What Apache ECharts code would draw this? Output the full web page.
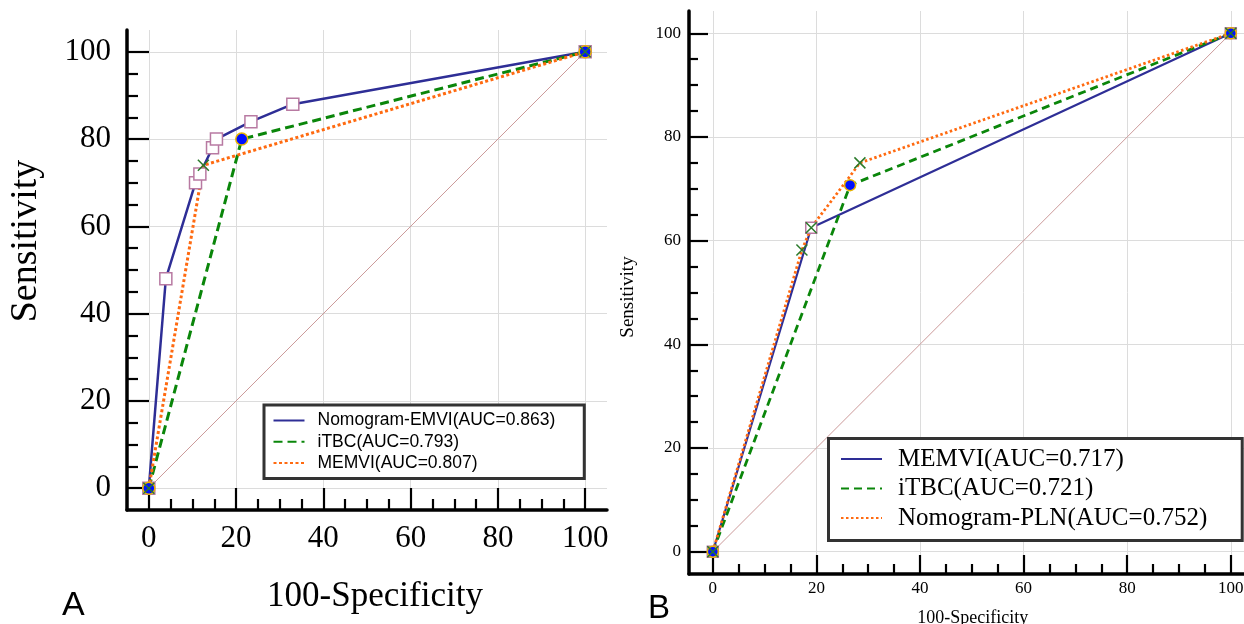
<!DOCTYPE html>
<html><head><meta charset="utf-8">
<script src="https://cdn.jsdelivr.net/npm/echarts@6/dist/echarts.min.js"></script>
<style>html,body{margin:0;padding:0;background:#fff}#c{width:1244px;height:624px}</style>
</head><body><div id="c"></div>
<script>
// ---- data ----
const majorTicks = [0, 20, 40, 60, 80, 100];
const minorTicks = [5, 10, 15, 25, 30, 35, 45, 50, 55, 65, 70, 75, 85, 90, 95];

// Panel A
const aNomoFpr  = [0, 3.9, 10.7, 11.7, 14.6, 15.5, 23.4, 33.0, 100];
const aNomoSens = [0, 48, 70, 72, 78, 80, 84, 88, 100];
const aItbcFpr  = [0, 21.3, 100];
const aItbcSens = [0, 80, 100];
const aMemviFpr  = [0, 12.5, 100];
const aMemviSens = [0, 74, 100];
const aNames = ['Nomogram-EMVI(AUC=0.863)', 'iTBC(AUC=0.793)', 'MEMVI(AUC=0.807)'];

// Panel B
const bMemviFpr  = [0, 19.0, 100];
const bMemviSens = [0, 62.5, 100];
const bItbcFpr  = [0, 26.5, 100];
const bItbcSens = [0, 70.7, 100];
const bNomoFpr  = [0, 17.2, 19.0, 28.4, 100];
const bNomoSens = [0, 58.2, 62.5, 75, 100];
const bNames = ['MEMVI(AUC=0.717)', 'iTBC(AUC=0.721)', 'Nomogram-PLN(AUC=0.752)'];

const diagFpr = [0, 100];
const diagSens = [0, 100];

// ---- helpers ----
const SERIF = '"Times New Roman","Liberation Serif",serif';
const SANS = 'Arial,"Liberation Sans",sans-serif';
const pts = (xs, ys) => xs.map((x, i) => [x, ys[i]]);
const NAVY = '#2e2e96', GREEN = '#0a860a', ORANGE = '#ff6a10';
const XSYM = 'path://M0,0L10,10M10,0L0,10';

function majorAxis(grid, min, max, o) {
  return {
    type: 'value', gridIndex: grid, min: min, max: max, position: o.position,
    name: o.name, nameLocation: 'middle', nameGap: o.nameGap,
    nameTextStyle: { fontFamily: SERIF, fontSize: o.nameSize, color: '#000', padding: o.namePad },
    axisLine: { show: true, onZero: false, lineStyle: { color: '#000', width: o.lineW } },
    axisTick: { show: true, inside: true, length: o.majorLen, customValues: majorTicks, lineStyle: { color: '#000', width: 2.2 } },
    axisLabel: { show: true, customValues: majorTicks, fontFamily: SERIF, fontSize: o.labelSize, color: '#000', margin: o.labelMargin },
    splitLine: { show: true, lineStyle: { color: '#dcdcdc', width: 1 } },
    minorTick: { show: false }
  };
}
function minorAxis(grid, min, max, position, len) {
  return {
    type: 'value', gridIndex: grid, min: min, max: max, position: position,
    axisLine: { show: false, onZero: false },
    axisTick: { show: true, inside: true, length: len, customValues: minorTicks, lineStyle: { color: '#000', width: 2.2 } },
    axisLabel: { show: false },
    splitLine: { show: false }
  };
}
function lineS(name, xs, ys, color, type, width, xi, yi) {
  return {
    type: 'line', name: name, xAxisIndex: xi, yAxisIndex: yi, data: pts(xs, ys),
    symbol: 'none', z: 3, animation: false,
    lineStyle: { color: color, width: width, type: type }, itemStyle: { color: color }
  };
}
function markS(kind, xs, ys, xi, yi, size) {
  const base = { type: 'scatter', xAxisIndex: xi, yAxisIndex: yi, data: pts(xs, ys), symbolSize: size, animation: false, silent: true };
  if (kind === 'sq') return Object.assign(base, { name: 'm-sq' + xi, symbol: 'rect', z: 4, itemStyle: { color: '#fff', borderColor: '#b87aa2', borderWidth: 1.5, opacity: 1 } });
  if (kind === 'ci') return Object.assign(base, { name: 'm-ci' + xi, symbol: 'circle', z: 5, itemStyle: { color: '#0010ff', borderColor: '#e8b400', borderWidth: 1.5, opacity: 1 } });
  return Object.assign(base, { name: 'm-x' + xi, symbol: XSYM, z: 6, itemStyle: { color: 'transparent', borderColor: '#2a7a2a', borderWidth: 1.5, opacity: 1 } });
}
function diagS(xi, yi) {
  return { type: 'line', name: 'diag' + xi, xAxisIndex: xi, yAxisIndex: yi, data: pts(diagFpr, diagSens), symbol: 'none', z: 2, animation: false, silent: true,
    lineStyle: { color: '#cc9a9a', width: 1 } };
}

const option = {
  backgroundColor: '#fff',
  animation: false,
  title: [
    { text: 'A', left: 62, top: 589, padding: 0, textStyle: { fontFamily: SANS, fontSize: 34, fontWeight: 'normal', color: '#000' } },
    { text: 'B', left: 648, top: 592, padding: 0, textStyle: { fontFamily: SANS, fontSize: 33, fontWeight: 'normal', color: '#000' } }
  ],
  grid: [
    { left: 127, top: 30, width: 480, height: 480, containLabel: false, outerBoundsMode: 'none' },
    { left: 689, top: 11, width: 567.7, height: 563, containLabel: false, outerBoundsMode: 'none' }
  ],
  xAxis: [
    majorAxis(0, -5, 105, { position: 'bottom', name: '100-Specificity', nameGap: 69, nameSize: 35, namePad: [0, 0, 0, 16], lineW: 3.5, majorLen: 22, labelSize: 31, labelMargin: 13 }),
    minorAxis(0, -5, 105, 'bottom', 11),
    majorAxis(1, -4.6, 105, { position: 'bottom', name: '100-Specificity', nameGap: 35, nameSize: 18, namePad: [0, 0, 0, 0], lineW: 3.5, majorLen: 19, labelSize: 17, labelMargin: 6 }),
    minorAxis(1, -4.6, 105, 'bottom', 10)
  ],
  yAxis: [
    majorAxis(0, -5, 105, { position: 'left', name: 'Sensitivity', nameGap: 82, nameSize: 38, namePad: [0, 0, 0, 58], lineW: 3.5, majorLen: 22, labelSize: 31, labelMargin: 16 }),
    minorAxis(0, -5, 105, 'left', 11),
    majorAxis(1, -4.3, 104.3, { position: 'left', name: 'Sensitivity', nameGap: 51, nameSize: 19, namePad: [0, 9, 0, 0], lineW: 3.5, majorLen: 19, labelSize: 17, labelMargin: 8 }),
    minorAxis(1, -4.3, 104.3, 'left', 9)
  ],
  legend: [
    { data: aNames, orient: 'vertical', left: 264, top: 405, selectedMode: false,
      itemWidth: 31, itemHeight: 10, itemGap: 3.3, padding: [6.5, 29, 6.3, 8.5],
      borderColor: '#333', borderWidth: 3, backgroundColor: '#fff',
      itemStyle: { opacity: 0 },
      textStyle: { fontFamily: SANS, fontSize: 17.5, color: '#000', padding: [0, 0, 0, 8] } },
    { data: bNames, orient: 'vertical', left: 828.5, top: 438.5, selectedMode: false,
      itemWidth: 41, itemHeight: 10, itemGap: 4.5, padding: [8, 35, 10, 11.5],
      borderColor: '#333', borderWidth: 3, backgroundColor: '#fff',
      itemStyle: { opacity: 0 },
      textStyle: { fontFamily: SERIF, fontSize: 25, color: '#000', padding: [0, 0, 0, 11] } }
  ],
  series: [
    diagS(0, 0),
    lineS(aNames[0], aNomoFpr, aNomoSens, NAVY, 'solid', 2.5, 0, 0),
    lineS(aNames[1], aItbcFpr, aItbcSens, GREEN, [9, 5], 3, 0, 0),
    lineS(aNames[2], aMemviFpr, aMemviSens, ORANGE, [3, 2.5], 3, 0, 0),
    markS('sq', aNomoFpr, aNomoSens, 0, 0, 12),
    markS('ci', aItbcFpr, aItbcSens, 0, 0, 12),
    markS('x', aMemviFpr, aMemviSens, 0, 0, 11),

    diagS(2, 2),
    lineS(bNames[0], bMemviFpr, bMemviSens, NAVY, 'solid', 2.2, 2, 2),
    lineS(bNames[1], bItbcFpr, bItbcSens, GREEN, [8, 5], 2.8, 2, 2),
    lineS(bNames[2], bNomoFpr, bNomoSens, ORANGE, [2.5, 2.5], 2.8, 2, 2),
    markS('sq', bMemviFpr, bMemviSens, 2, 2, 11),
    markS('ci', bItbcFpr, bItbcSens, 2, 2, 11),
    markS('x', bNomoFpr, bNomoSens, 2, 2, 11)
  ]
};
const chart = echarts.init(document.getElementById('c'), null, { renderer: 'canvas' });
chart.setOption(option);
</script>
</body></html>
